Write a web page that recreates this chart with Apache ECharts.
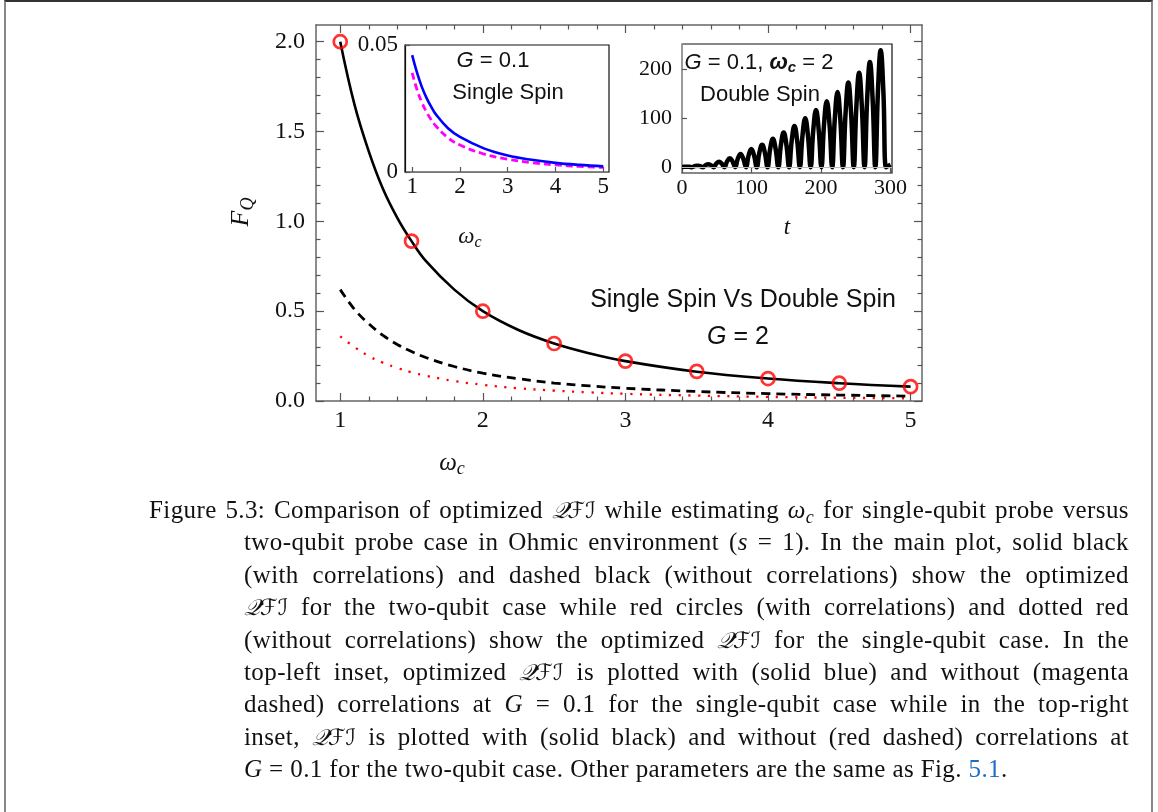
<!DOCTYPE html>
<html><head><meta charset="utf-8">
<script src="https://cdn.jsdelivr.net/npm/echarts@6/dist/echarts.min.js"></script>
<style>
html,body{margin:0;padding:0;background:#fff;overflow:hidden;}
#frame{position:absolute;left:4px;top:0;width:1149px;height:840px;border-top:2px solid #333;border-left:2px solid #888;border-right:2px solid #888;box-sizing:border-box;}
#chart{position:absolute;left:0;top:0;width:1158px;height:812px;}
#cap{position:absolute;left:149px;top:494px;width:980px;font-family:'Liberation Serif',serif;font-size:25px;letter-spacing:0.4px;line-height:32.4px;color:#111;}
#cap div{text-align:justify;text-align-last:justify;height:32.4px;white-space:normal;}
#cap div.ind{padding-left:95px;}
#cap div.last{text-align:left;text-align-last:left;}
#cap sub{font-size:0.72em;vertical-align:-0.25em;line-height:0;}
#cap .q{font-family:'DejaVu Serif','DejaVu Sans',serif;font-style:italic;font-size:0.9em;letter-spacing:0;}
#cap a{color:#1a6fc0;text-decoration:none;}
</style></head>
<body>
<div id="frame"></div>
<div id="chart"></div>
<div id="cap">
<div>Figure 5.3: Comparison of optimized <span class="q">𝒬ℱℐ</span> while estimating <i>ω<sub>c</sub></i> for single-qubit probe versus</div>
<div class="ind">two-qubit probe case in Ohmic environment (<i>s</i> = 1). In the main plot, solid black</div>
<div class="ind">(with correlations) and dashed black (without correlations) show the optimized</div>
<div class="ind"><span class="q">𝒬ℱℐ</span> for the two-qubit case while red circles (with correlations) and dotted red</div>
<div class="ind">(without correlations) show the optimized <span class="q">𝒬ℱℐ</span> for the single-qubit case. In the</div>
<div class="ind">top-left inset, optimized <span class="q">𝒬ℱℐ</span> is plotted with (solid blue) and without (magenta</div>
<div class="ind">dashed) correlations at <i>G</i> = 0.1 for the single-qubit case while in the top-right</div>
<div class="ind">inset, <span class="q">𝒬ℱℐ</span> is plotted with (solid black) and without (red dashed) correlations at</div>
<div class="ind last"><i>G</i> = 0.1 for the two-qubit case. Other parameters are the same as Fig. <a>5.1</a>.</div>
</div>
<script>
// ---------- data ----------
const wMain = [1, 1.1, 1.2, 1.3, 1.4, 1.5, 1.6, 1.8, 2, 2.25, 2.5, 2.75, 3, 3.5, 4, 4.5, 5];
const twoQubitCorr   = [2.00, 1.65, 1.39, 1.18, 1.02, 0.89, 0.78, 0.62, 0.50, 0.395, 0.32, 0.265, 0.222, 0.163, 0.125, 0.099, 0.080];
const twoQubitNoCorr = [0.62, 0.51, 0.43, 0.365, 0.315, 0.275, 0.242, 0.192, 0.155, 0.124, 0.100, 0.084, 0.071, 0.053, 0.041, 0.033, 0.027];
const singleNoCorr   = [0.36, 0.30, 0.25, 0.213, 0.184, 0.160, 0.141, 0.111, 0.090, 0.071, 0.058, 0.048, 0.040, 0.030, 0.023, 0.018, 0.015];
const wCircles   = [1, 1.5, 2, 2.5, 3, 3.5, 4, 4.5, 5];
const singleCorr = [2.00, 0.89, 0.50, 0.32, 0.222, 0.165, 0.125, 0.099, 0.080];

const wInset = [1, 1.1, 1.2, 1.3, 1.4, 1.5, 1.75, 2, 2.5, 3, 3.5, 4, 4.5, 5];
const insetCorr   = [0.046, 0.0392, 0.0336, 0.0292, 0.0256, 0.0226, 0.0172, 0.0138, 0.0093, 0.0065, 0.0048, 0.0036, 0.0028, 0.0022];
const insetNoCorr = [0.039, 0.0325, 0.0275, 0.0236, 0.0205, 0.018, 0.0135, 0.0106, 0.0071, 0.005, 0.0037, 0.0028, 0.0022, 0.0018];

const tInset  = [0, 2.8, 6.7, 10.6, 14.5, 18.3, 22.2, 26.1, 30.0, 33.8, 37.7, 41.6, 45.5, 49.3, 53.2, 57.1, 61.0, 64.8, 68.7, 72.6,
                 76.5, 80.3, 84.2, 88.1, 92.0, 95.8, 99.7, 103.6, 107.5, 111.3, 115.2, 119.1, 123.0, 126.8, 130.7, 134.6, 138.5, 142.3, 146.2, 150.1,
                 154.0, 157.8, 161.7, 165.6, 169.5, 173.3, 177.2, 181.1, 185.0, 188.8, 192.7, 196.6, 200.5, 204.3, 208.2, 212.1, 216.0, 219.8, 223.7, 227.6,
                 231.5, 235.3, 239.2, 243.1, 247.0, 250.8, 254.7, 258.6, 262.5, 266.3, 270.2, 274.1, 278.0, 281.8, 285.7, 289.6, 293.5, 297.3, 300];
const fqInset = [0.5, 0.6, 1, 0.6, 0, 2, 3, 2, 0, 4, 6, 4, 0, 7.2, 11, 7.2, 0, 11.7, 18, 11.7,
                 0, 17.5, 27, 17.5, 0, 24, 37, 24, 0, 30, 46, 30, 0, 37.7, 58, 37.7, 0, 46, 71, 46,
                 0, 54.6, 84, 54.6, 0, 65, 100, 65, 0, 76, 117, 76, 0, 88, 135, 88, 0, 100, 154, 100,
                 0, 112, 173, 112, 0, 125, 193, 125, 0, 140, 215, 140, 0, 155, 239, 155, 0, 3, 5];

const mainXTicks = [1, 2, 3, 4, 5];
const mainXMinor = [1.2, 1.4, 1.6, 1.8, 2.2, 2.4, 2.6, 2.8, 3.2, 3.4, 3.6, 3.8, 4.2, 4.4, 4.6, 4.8];
const mainYTicks = [0, 0.5, 1.0, 1.5, 2.0];
const mainYMinor = [0.1, 0.2, 0.3, 0.4, 0.6, 0.7, 0.8, 0.9, 1.1, 1.2, 1.3, 1.4, 1.6, 1.7, 1.8, 1.9];
const inset1XTicks = [1, 2, 3, 4, 5];
const inset1YTicks = [0, 0.05];
const inset2XTicks = [0, 100, 200, 300];
const inset2YTicks = [0, 100, 200];

// ---------- helpers ----------
const zip = (a, b) => a.map((v, i) => [v, b[i]]);
const SERIF = 'Liberation Serif';
const SANS = 'Liberation Sans';
const mctx = document.createElement('canvas').getContext('2d');
function runs(cx, cy, parts) {
  const widths = parts.map(p => { mctx.font = p.font; return mctx.measureText(p.t).width; });
  const total = widths.reduce((a, b) => a + b, 0);
  let x = cx - total / 2;
  return parts.map((p, i) => {
    const el = { type: 'text', x: x, y: cy + (p.dy || 0), z: 100,
      style: { text: p.t, font: p.font, fill: p.color || '#111', align: 'left', verticalAlign: 'middle', textAlign: 'left', textVerticalAlign: 'middle' } };
    x += widths[i];
    return el;
  });
}
function axis(grid, pos, min, max, o) {
  o = o || {};
  return {
    type: 'value', gridIndex: grid, position: pos, min: min, max: max,
    splitLine: { show: false },
    axisLine: { show: !!o.line, onZero: false, lineStyle: { color: o.lineColor || '#666', width: o.lineWidth || 1.5 } },
    axisTick: { show: !!o.ticks, inside: true, length: o.len || 7, customValues: o.ticks, lineStyle: { color: o.tickColor || '#555', width: 1.2 } },
    axisLabel: o.labels ? { show: true, customValues: o.labels, fontFamily: SERIF, fontSize: o.fs || 24, color: '#111', margin: o.margin || 8, formatter: o.fmt } : { show: false },
    axisPointer: { show: false }
  };
}

const chart = echarts.init(document.getElementById('chart'), null, { renderer: 'canvas' });
const fmt1 = v => v.toFixed(1);

const xAxes = [
  axis(0, 'bottom', 0.83, 5.08, { line: true, ticks: mainXTicks, len: 8, labels: mainXTicks, margin: 8 }),
  axis(0, 'bottom', 0.83, 5.08, { ticks: mainXMinor, len: 4.5 }),
  axis(0, 'top', 0.83, 5.08, { line: true, ticks: mainXTicks, len: 8 }),
  axis(0, 'top', 0.83, 5.08, { ticks: mainXMinor, len: 4.5 }),
  axis(1, 'bottom', 0.85, 5.12, { line: true, lineColor: '#777', lineWidth: 1.2, ticks: inset1XTicks, len: 5, labels: inset1XTicks, margin: 3, fs: 23 }),
  axis(2, 'bottom', 0, 302, { line: true, lineColor: '#888', lineWidth: 1.2, ticks: inset2XTicks, len: 5, labels: inset2XTicks, margin: 4, fs: 22 })
];
const yAxes = [
  axis(0, 'left', 0, 2.093, { line: true, ticks: mainYTicks, len: 8, labels: mainYTicks, margin: 11, fmt: fmt1 }),
  axis(0, 'left', 0, 2.093, { ticks: mainYMinor, len: 4.5 }),
  axis(0, 'right', 0, 2.093, { line: true, ticks: mainYTicks, len: 8 }),
  axis(0, 'right', 0, 2.093, { ticks: mainYMinor, len: 4.5 }),
  axis(1, 'left', 0, 0.05, { line: true, lineColor: '#111', lineWidth: 1.2, ticks: inset1YTicks, len: 5, labels: inset1YTicks, margin: 7, fs: 23 }),
  axis(2, 'left', -12, 252, { line: true, lineColor: '#aaa', lineWidth: 1.5, ticks: inset2YTicks, len: 5, labels: inset2YTicks, margin: 10, fs: 22 })
];

const graphics = [].concat(
  runs(452, 463, [
    { t: 'ω', font: 'italic 25px "' + SERIF + '"' },
    { t: 'c', font: 'italic 18px "' + SERIF + '"', dy: 6 }
  ]),
  [{ type: 'group', x: 241, y: 212, rotation: Math.PI / 2, z: 100,
     children: runs(0, 0, [
       { t: 'F', font: 'italic 26px "' + SERIF + '"' },
       { t: 'Q', font: 'italic 18px "' + SERIF + '"', dy: 7 }
     ]) }],
  runs(743, 300, [{ t: 'Single Spin Vs Double Spin', font: '25px "' + SANS + '"' }]),
  runs(738, 337, [
    { t: 'G', font: 'italic 25px "' + SANS + '"' },
    { t: ' = 2', font: '25px "' + SANS + '"' }
  ]),
  runs(493, 61, [
    { t: 'G', font: 'italic 22px "' + SANS + '"' },
    { t: ' = 0.1', font: '22px "' + SANS + '"' }
  ]),
  runs(508, 93, [{ t: 'Single Spin', font: '22px "' + SANS + '"' }]),
  runs(470, 237, [
    { t: 'ω', font: 'italic 23px "' + SERIF + '"' },
    { t: 'c', font: 'italic 16px "' + SERIF + '"', dy: 6 }
  ]),
  runs(759, 63, [
    { t: 'G', font: 'italic 22px "' + SANS + '"' },
    { t: ' = 0.1, ', font: '22px "' + SANS + '"' },
    { t: 'ω', font: 'italic bold 22px "' + SANS + '"' },
    { t: 'c', font: 'italic bold 15px "' + SANS + '"', dy: 5 },
    { t: ' = 2', font: '22px "' + SANS + '"' }
  ]),
  runs(760, 95, [{ t: 'Double Spin', font: '22px "' + SANS + '"' }]),
  runs(787, 228, [{ t: 't', font: 'italic 23px "' + SERIF + '"' }])
);

chart.setOption({
  animation: false,
  backgroundColor: 'transparent',
  grid: [
    { left: 316, top: 25, width: 606, height: 376, show: false },
    { left: 405, top: 45, width: 204, height: 127, show: true, backgroundColor: '#fff', borderColor: '#111', borderWidth: 1.2 },
    { left: 682, top: 44, width: 210, height: 129, show: true, backgroundColor: '#fff', borderColor: '#111', borderWidth: 1.2 }
  ],
  xAxis: xAxes,
  yAxis: yAxes,
  series: [
    { type: 'line', xAxisIndex: 0, yAxisIndex: 0, data: zip(wMain, singleNoCorr), smooth: 0.4, showSymbol: false, silent: true,
      lineStyle: { color: '#ff0000', width: 2.3, type: [2.2, 7.5] } },
    { type: 'line', xAxisIndex: 0, yAxisIndex: 0, data: zip(wMain, twoQubitNoCorr), smooth: 0.4, showSymbol: false, silent: true,
      lineStyle: { color: '#000', width: 2.8, type: [9, 6] } },
    { type: 'line', xAxisIndex: 0, yAxisIndex: 0, data: zip(wMain, twoQubitCorr), smooth: 0.4, showSymbol: false, silent: true,
      lineStyle: { color: '#000', width: 2.6 } },
    { type: 'scatter', xAxisIndex: 0, yAxisIndex: 0, data: zip(wCircles, singleCorr), symbol: 'circle', symbolSize: 13, silent: true, z: 4,
      itemStyle: { color: 'rgba(0,0,0,0)', borderColor: '#ff0000', borderWidth: 2.7 } },
    { type: 'line', xAxisIndex: 4, yAxisIndex: 4, data: zip(wInset, insetNoCorr), smooth: 0.4, showSymbol: false, silent: true,
      lineStyle: { color: '#ff00ff', width: 2.8, type: [7, 4] } },
    { type: 'line', xAxisIndex: 4, yAxisIndex: 4, data: zip(wInset, insetCorr), smooth: 0.4, showSymbol: false, silent: true,
      lineStyle: { color: '#0000ff', width: 2.6 } },
    { type: 'line', xAxisIndex: 5, yAxisIndex: 5, data: zip(tInset, fqInset), smooth: 0.45, showSymbol: false, silent: true,
      lineStyle: { color: '#000', width: 4.5 },
      markLine: { silent: true, symbol: ['none', 'none'], label: { show: false }, lineStyle: { color: '#bbb', width: 1.2, type: 'solid' }, data: [{ yAxis: 0 }] } }
  ],
  graphic: graphics
});
</script>
</body></html>
